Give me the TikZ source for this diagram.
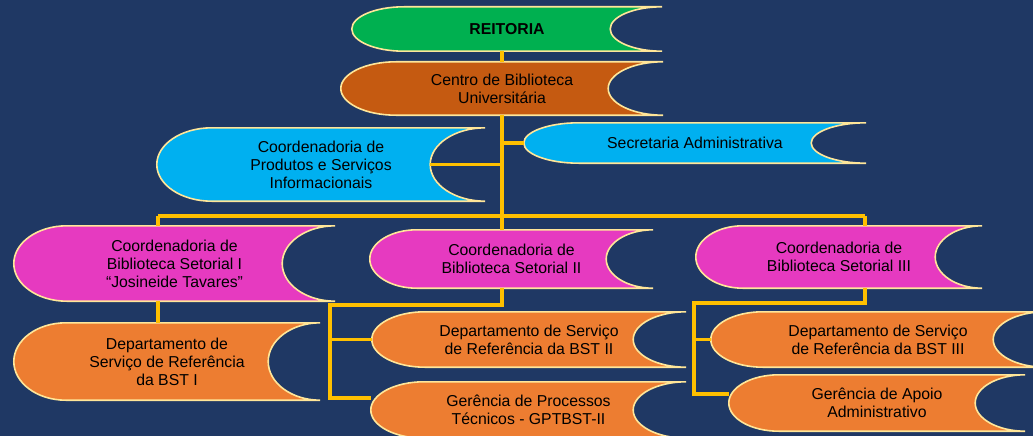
\documentclass[tikz,border=0pt]{standalone}
\usepackage{fontspec}
\setmainfont{Liberation Sans}
\usetikzlibrary{calc,backgrounds}
\definecolor{navy}{RGB}{31,56,100}
\definecolor{reitgreen}{RGB}{0,176,80}
\definecolor{cbubrown}{RGB}{197,90,17}
\definecolor{skyblue}{RGB}{0,176,240}
\definecolor{coordpink}{RGB}{230,58,192}
\definecolor{deptorange}{RGB}{237,125,49}
\definecolor{gold}{RGB}{255,192,0}
\definecolor{rim}{RGB}{255,230,153}
\begin{document}
\begin{tikzpicture}[x=1pt,y=1pt]
   \tikzstyle{unit} = [align=center, inner sep=0pt, font=\fontsize{15.8}{18}\selectfont]
   \tikzstyle{scroll} = [draw=rim, line width=1.6pt]
   \tikzstyle{link} = [draw=gold, line width=3.2pt]
   \useasboundingbox (0,0) rectangle (1033,-436);

   \node[unit, minimum width=310pt, minimum height=44pt] (reit) at (507,-29) {\textbf{REITORIA}};
   \node[unit, minimum width=322pt, minimum height=53pt] (cbu) at (502,-88.5) {Centro de Biblioteca\\Universitária};
   \node[unit, minimum width=328pt, minimum height=73pt] (cpsi) at (321,-164.5) {Coordenadoria de\\Produtos e Serviços\\Informacionais};
   \node[unit, minimum width=342pt, minimum height=40pt] (sec) at (695,-143) {Secretaria Administrativa};
   \node[unit, minimum width=321pt, minimum height=75pt] (cbs1) at (174.5,-263.5) {Coordenadoria de\\Biblioteca Setorial I\\“Josineide Tavares”};
   \node[unit, minimum width=283pt, minimum height=58pt] (cbs2) at (511.5,-259) {Coordenadoria de\\Biblioteca Setorial II};
   \node[unit, minimum width=286pt, minimum height=62pt] (cbs3) at (839,-257) {Coordenadoria de\\Biblioteca Setorial III};
   \node[unit, minimum width=306pt, minimum height=77pt] (dsr1) at (167,-361.5) {Departamento de\\Serviço de Referência\\da BST I};
   \node[unit, minimum width=314pt, minimum height=55pt] (dsr2) at (529,-339.5) {Departamento de Serviço\\de Referência da BST II};
   \node[unit, minimum width=315pt, minimum height=56pt] (gpt) at (528.5,-410) {Gerência de Processos\\Técnicos - GPTBST-II};
   \node[unit, minimum width=334pt, minimum height=55pt] (dsr3) at (878,-339.5) {Departamento de Serviço\\de Referência da BST III};
   \node[unit, minimum width=296pt, minimum height=56pt] (gaa) at (877,-403) {Gerência de Apoio\\Administrativo};

   \coordinate (busW) at (158,-216);
   \coordinate (busE) at (865,-216);
   \coordinate (fork2) at (330,-305);
   \coordinate (end2) at (330,-398);
   \coordinate (fork3) at (694,-303);
   \coordinate (end3) at (694,-394);

   \path[link] (cbu.north |- reit.south) -- (cbu.north);
   \path[link] (cbu.south) -- (cbu.south |- cbs2.north);
   \path[link] (cbu.south |- sec.west) -- (sec.west);
   \path[link] (cbu.south |- cpsi.east) -- ([xshift=-55pt]cpsi.east);

   \path[link] (busW) -- (busE);
   \path[link] (busW) -- (busW |- cbs1.north);
   \path[link] (busE) -- (busE |- cbs3.north);

   \path[link] (busW |- cbs1.south) -- (busW |- dsr1.north);

   \path[link] (cbu.south |- cbs2.south) -- (cbu.south |- fork2) -- (fork2) -- (end2) -- (end2 -| gpt.west);
   \path[link] (fork2 |- dsr2.west) -- (dsr2.west);

   \path[link] (busE |- cbs3.south) -- (busE |- fork3) -- (fork3) -- (end3) -- (end3 -| gaa.west);
   \path[link] (fork3 |- dsr3.west) -- (dsr3.west);

   \begin{pgfonlayer}{background}
     \fill[navy] (0,0) rectangle (1033,-436);
     \foreach \bx/\dep/\col in {reit/52/reitgreen, cbu/55/cbubrown, cpsi/55/skyblue, sec/55/skyblue,
        cbs1/53/coordpink, cbs2/47/coordpink, cbs3/47/coordpink, dsr1/52/deptorange,
        dsr2/53/deptorange, gpt/53/deptorange, dsr3/52/deptorange, gaa/50/deptorange}
       \path[scroll, fill=\col] let \p1=(\bx.north west), \p2=(\bx.south east), \n3={((\y1)-(\y2))/2} in
         (\x1+\dep pt,\y1) -- (\x2,\y1) arc[start angle=90, end angle=270, x radius=\dep pt, y radius=\n3]
         -- (\x1+\dep pt,\y2) arc[start angle=270, end angle=90, x radius=\dep pt, y radius=\n3] -- cycle;
   \end{pgfonlayer}
\end{tikzpicture}
\end{document}
